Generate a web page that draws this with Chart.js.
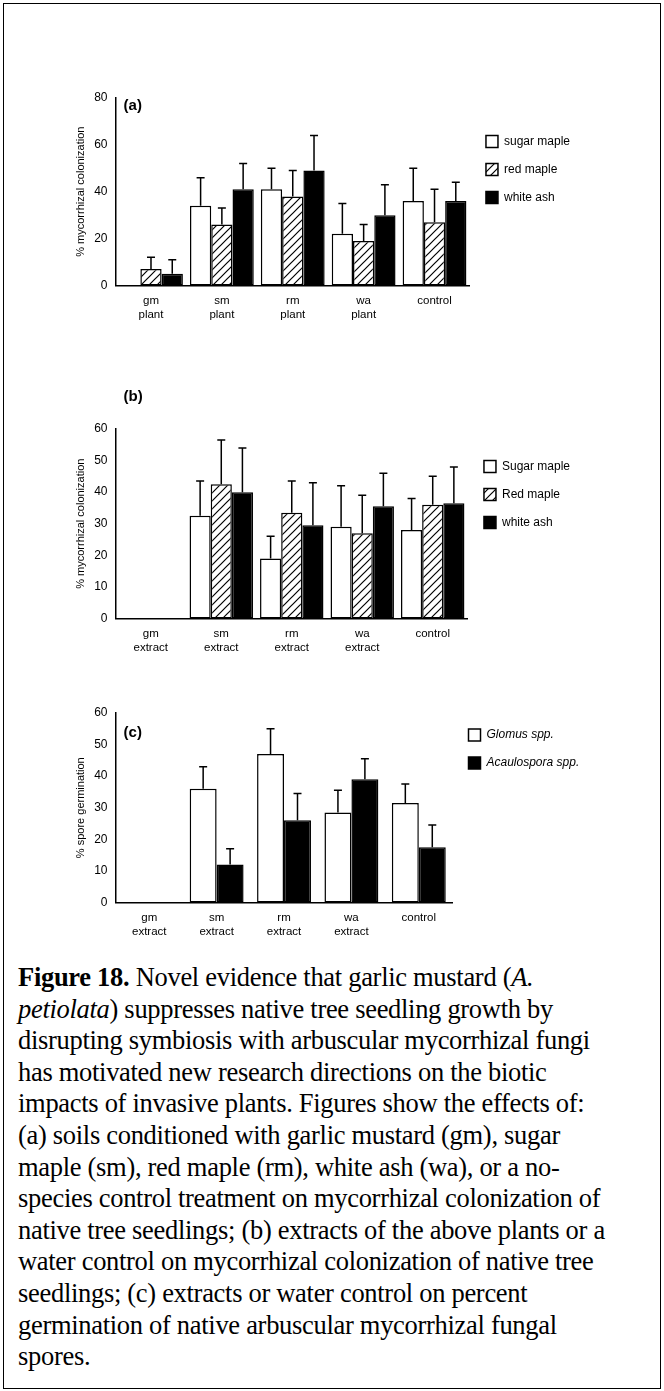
<!DOCTYPE html>
<html><head><meta charset="utf-8">
<script src="https://cdn.jsdelivr.net/npm/chart.js@4"></script>
<style>
body{margin:0;background:#fff;}
#frame{position:absolute;left:3px;top:3px;width:656px;height:1384px;border:1.5px solid #000;}
.box{position:absolute;left:20px;width:560px;}
#cap{position:absolute;left:18px;top:962px;white-space:nowrap;font-family:"Liberation Serif","Times New Roman",serif;font-size:26.5px;line-height:31.6px;color:#000;letter-spacing:-0.3px;}
</style></head><body>
<div id="frame"></div>
<div class="box" style="top:78px;height:247px"><canvas id="ca"></canvas></div>
<div class="box" style="top:389px;height:269px"><canvas id="cb"></canvas></div>
<div class="box" style="top:693px;height:249px"><canvas id="cc"></canvas></div>
<div id="cap"><b>Figure 18.</b> Novel evidence that garlic mustard (<i>A.</i><br><i>petiolata</i>) suppresses native tree seedling growth by<br>disrupting symbiosis with arbuscular mycorrhizal fungi<br>has motivated new research directions on the biotic<br>impacts of invasive plants. Figures show the effects of:<br>(a) soils conditioned with garlic mustard (gm), sugar<br>maple (sm), red maple (rm), white ash (wa), or a no-<br>species control treatment on mycorrhizal colonization of<br>native tree seedlings; (b) extracts of the above plants or a<br>water control on mycorrhizal colonization of native tree<br>seedlings; (c) extracts or water control on percent<br>germination of native arbuscular mycorrhizal fungal<br>spores.</div>
<script>
const catsA = [["gm","plant"],["sm","plant"],["rm","plant"],["wa","plant"],"control"];
const catsB = [["gm","extract"],["sm","extract"],["rm","extract"],["wa","extract"],"control"];
const catsC = [["gm","extract"],["sm","extract"],["rm","extract"],["wa","extract"],"control"];

const aSugar = [0, 34, 41, 22, 36],   aSugarTop = [null, 46, 50, 35, 50];
const aRed   = [7, 26, 38, 19, 27],   aRedTop   = [12, 33, 49, 26, 41];
const aAsh   = [5, 41, 49, 30, 36],   aAshTop   = [11, 52, 64, 43, 44];

const bSugar = [0, 32.5, 19, 29, 28],  bSugarTop = [null, 43.5, 26, 42, 38];
const bRed   = [0, 42.5, 33.5, 27, 36], bRedTop  = [null, 56.5, 43.5, 39, 45];
const bAsh   = [0, 40, 29.5, 35.5, 36.5], bAshTop = [null, 54, 43, 46, 48];

const cGlomus = [0, 36, 47, 28.5, 31.5], cGlomusTop = [null, 43, 55, 35.5, 37.5];
const cAcaulo = [0, 12, 26, 39, 17.5],   cAcauloTop = [null, 17, 34.5, 45.5, 24.5];

function hatch(){
  const c=document.createElement('canvas');c.width=8;c.height=8;
  const g=c.getContext('2d');g.fillStyle='#fff';g.fillRect(0,0,8,8);
  g.strokeStyle='#000';g.lineWidth=1.2;
  g.beginPath();g.moveTo(0,8);g.lineTo(8,0);g.moveTo(-2,2);g.lineTo(2,-2);g.moveTo(6,10);g.lineTo(10,6);g.stroke();
  return g.createPattern(c,'repeat');
}
const H = hatch();

const errPlugin = {
  id:'err',
  afterDatasetsDraw(chart){
    const ctx=chart.ctx, y=chart.scales.y;
    chart.data.datasets.forEach((ds,i)=>{
      const meta=chart.getDatasetMeta(i);
      meta.data.forEach((bar,j)=>{
        const t=ds.tops[j]; if(t==null) return;
        const yt=y.getPixelForValue(t), yb=y.getPixelForValue(ds.data[j]);
        ctx.save();ctx.strokeStyle='#000';ctx.lineWidth=1.5;ctx.beginPath();
        ctx.moveTo(bar.x,yb);ctx.lineTo(bar.x,yt);ctx.moveTo(bar.x-4,yt);ctx.lineTo(bar.x+4,yt);ctx.stroke();ctx.restore();
      });
    });
    const p=chart.options.plugins.panel;
    ctx.save();ctx.font='bold 15px "Liberation Sans",Arial';ctx.fillStyle='#000';
    ctx.fillText(p.text, chart.chartArea.left+p.dx, chart.chartArea.top+p.dy);ctx.restore();
  }
};

function make(id, cats, sets, label, max, step, panel, catPct){
  new Chart(document.getElementById(id),{
    type:'bar',
    data:{labels:cats, datasets:sets.map(s=>({label:s.label,data:s.data,tops:s.tops,backgroundColor:s.fill,borderColor:'#000',borderWidth:1.5,borderSkipped:false,barPercentage:1,categoryPercentage:catPct}))},
    options:{
      responsive:true,maintainAspectRatio:false,animation:false,
      layout:{padding:{top:panel.pad,left:50,right:0}},
      plugins:{
        panel:panel,
        tooltip:{enabled:false},
        legend:{position:'right',align:'start',
          title:{display:panel.lg>0,text:' ',padding:{top:panel.lg,bottom:0}},
          labels:{color:'#000',boxWidth:12,boxHeight:12,padding:16,font:{family:'"Liberation Sans",Arial',size:12,style:panel.legendStyle||'normal'}}}
      },
      scales:{
        x:{grid:{display:false,drawTicks:true,tickLength:6,color:'#000'},border:{color:'#000',width:1.5},ticks:{color:'#000',font:{family:'"Liberation Sans",Arial',size:11.5},maxRotation:0,autoSkip:false}},
        y:{min:0,max:max,grid:{display:false,drawTicks:true,tickLength:5},border:{color:'#000',width:1.5},
           ticks:{stepSize:step,color:'#000',font:{family:'"Liberation Sans",Arial',size:12}},
           title:{display:true,text:label,color:'#000',font:{family:'"Liberation Sans",Arial',size:11}}}
      }
    },
    plugins:[errPlugin]
  });
}

make('ca',catsA,[
  {label:'sugar maple',data:aSugar,tops:aSugarTop,fill:'#fff'},
  {label:'red maple',data:aRed,tops:aRedTop,fill:H},
  {label:'white ash',data:aAsh,tops:aAshTop,fill:'#000'}],
  '% mycorrhizal colonization',80,20,{text:'(a)',dx:8,dy:12,pad:20,lg:7},0.9);
make('cb',catsB,[
  {label:'Sugar maple',data:bSugar,tops:bSugarTop,fill:'#fff'},
  {label:'Red maple',data:bRed,tops:bRedTop,fill:H},
  {label:'white ash',data:bAsh,tops:bAshTop,fill:'#000'}],
  '% mycorrhizal colonization',60,10,{text:'(b)',dx:8,dy:-28,pad:40,lg:1},0.9);
make('cc',catsC,[
  {label:'Glomus spp.',data:cGlomus,tops:cGlomusTop,fill:'#fff'},
  {label:'Acaulospora spp.',data:cAcaulo,tops:cAcauloTop,fill:'#000'}],
  '% spore germination',60,10,{text:'(c)',dx:8,dy:24,pad:20,lg:0,legendStyle:'italic'},0.8);
</script>
</body></html>
